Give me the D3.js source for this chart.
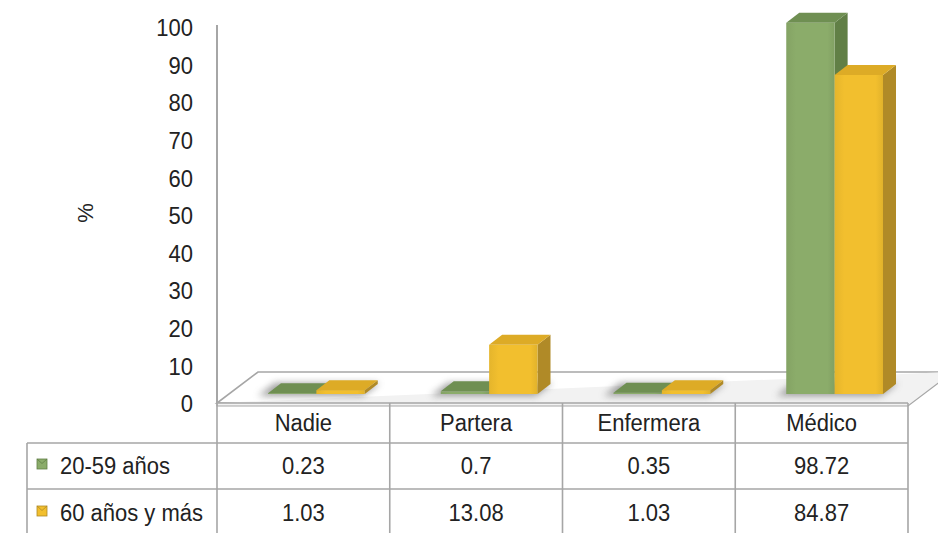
<!DOCTYPE html>
<html>
<head>
<meta charset="utf-8">
<script src="https://cdn.jsdelivr.net/npm/d3@7"></script>
<style>
  body { margin: 0; background: #fff; }
  text { font-family: "Liberation Sans", Arial, sans-serif; fill: #222; }
</style>
</head>
<body>
<svg id="chart" width="938" height="533"></svg>
<script>
const categories = ["Nadie", "Partera", "Enfermera", "Médico"];
const series = ["20-59 años", "60 años y más"];
const values2059 = [0.23, 0.7, 0.35, 98.72];
const values60 = [1.03, 13.08, 1.03, 84.87];
const yTicks = [0, 10, 20, 30, 40, 50, 60, 70, 80, 90, 100];
const yLabel = "%";

const seriesValues = [values2059, values60];
const colors = [
  { front: "#8BAC6A", side: "#617F46", top: "#6F8F52" },
  { front: "#F2BF2E", side: "#B08A27", top: "#DDAB26" }
];

const svg = d3.select("#chart");
const defs = svg.append("defs");
defs.append("filter").attr("id", "blur").attr("x", "-30%").attr("y", "-100%").attr("width", "160%").attr("height", "300%")
  .append("feGaussianBlur").attr("stdDeviation", 3.5);
colors.forEach((c, i) => {
  const g = defs.append("linearGradient").attr("id", "front" + i).attr("x1", 0).attr("x2", 1).attr("y1", 0).attr("y2", 0);
  g.append("stop").attr("offset", "0%").attr("stop-color", d3.color(c.front).darker(0.15));
  g.append("stop").attr("offset", "20%").attr("stop-color", c.front);
  g.append("stop").attr("offset", "85%").attr("stop-color", c.front);
  g.append("stop").attr("offset", "100%").attr("stop-color", d3.color(c.front).darker(0.2));
});

const left = 217, right = 908;
const y = d3.scaleLinear().domain([0, 100]).range([404, 28]);
const x = d3.scaleBand().domain(categories).range([left, right]);
const xInner = d3.scaleBand().domain(series).range([38, x.bandwidth() - 38]);

const floorY = 403;
const depthX = 41, depthY = -31;   // floor depth
const offX = 13, offY = -10;       // bar plane offset
const bdx = 13, bdy = -10;         // bar depth
const grid = "#a6a6a6";

// Floor
svg.append("path")
  .attr("d", `M${left},${floorY} L${right},${floorY} L${right + depthX},${floorY + depthY} L${left + depthX},${floorY + depthY} Z`)
  .attr("fill", "#fff").attr("stroke", grid).attr("stroke-width", 1.6);
svg.append("path")
  .attr("d", `M${left},${floorY} L${left},${floorY + 3} L${right},${floorY + 3} L${right + depthX},${floorY + depthY + 3} L${right + depthX},${floorY + depthY} `)
  .attr("fill", "#f2f2f2").attr("stroke", grid).attr("stroke-width", 1.2);

// Shadows
categories.forEach((c, i) => {
  const x0 = x(c) + offX + xInner(series[0]);
  const x1 = x(c) + offX + xInner(series[1]) + xInner.bandwidth();
  const yb = y(0) + offY;
  svg.append("path")
    .attr("d", `M${x0 - 10},${yb + 2} L${x1 - 2},${yb + 2} L${x1 + bdx + 2},${yb + bdy - 1} L${x0 + bdx - 6},${yb + bdy - 1} Z`)
    .attr("fill", "#777").attr("opacity", 0.7).attr("filter", "url(#blur)");
});

// Bars
const bars = svg.append("g");
categories.forEach((c, i) => {
  series.forEach((s, j) => {
    const v = seriesValues[j][i];
    const col = colors[j];
    const x0 = x(c) + offX + xInner(s);
    const w = xInner.bandwidth();
    const yT = y(v) + offY;
    const yB = y(0) + offY;
    const g = bars.append("g");
    g.append("path")
      .attr("d", `M${x0 + w},${yT} L${x0 + w + bdx},${yT + bdy} L${x0 + w + bdx},${yB + bdy} L${x0 + w},${yB} Z`)
      .attr("fill", col.side);
    g.append("rect").attr("x", x0).attr("y", yT).attr("width", w).attr("height", Math.max(0, yB - yT))
      .attr("fill", `url(#front${j})`);
    g.append("path")
      .attr("d", `M${x0},${yT} L${x0 + w},${yT} L${x0 + w + bdx},${yT + bdy} L${x0 + bdx},${yT + bdy} Z`)
      .attr("fill", col.top);
  });
});

// Y axis
const yAxis = d3.axisLeft(y).tickValues(yTicks).tickSize(0).tickPadding(24);
const ga = svg.append("g").attr("transform", `translate(${left},0)`).call(yAxis);
ga.select(".domain").remove();
ga.selectAll("text").style("font-size", "22px").style("fill", "#222")
  .style("font-family", '"Liberation Sans", Arial, sans-serif')
  .attr("transform", "scale(1,1.1)");
svg.append("line").attr("x1", left).attr("x2", left).attr("y1", 25).attr("y2", floorY)
  .attr("stroke", grid).attr("stroke-width", 2);

svg.append("text").attr("transform", "translate(93,213) rotate(-90)")
  .attr("text-anchor", "middle").style("font-size", "22px").text(yLabel);

// Data table
const rowTop = [403, 443, 489];
const rowBottom = 540;
const legendLeft = 27;
const t = svg.append("g").attr("stroke", grid).attr("stroke-width", 1.6);
t.append("line").attr("x1", left).attr("x2", right).attr("y1", rowTop[0]).attr("y2", rowTop[0]);
t.append("line").attr("x1", legendLeft).attr("x2", right).attr("y1", rowTop[1]).attr("y2", rowTop[1]);
t.append("line").attr("x1", legendLeft).attr("x2", right).attr("y1", rowTop[2]).attr("y2", rowTop[2]);
t.append("line").attr("x1", legendLeft).attr("x2", legendLeft).attr("y1", rowTop[1]).attr("y2", rowBottom);
[left, ...categories.map(c => x(c) + x.bandwidth())].forEach(xx => {
  t.append("line").attr("x1", xx).attr("x2", xx).attr("y1", rowTop[0]).attr("y2", rowBottom);
});

const fs = "22px";
categories.forEach(c => {
  svg.append("text").attr("transform", `translate(${x(c) + x.bandwidth() / 2},${(rowTop[0] + rowTop[1]) / 2 + 8}) scale(1,1.1)`)
    .attr("text-anchor", "middle").style("font-size", fs).text(c);
});
const rowCenters = [(rowTop[1] + rowTop[2]) / 2, (rowTop[2] + 537) / 2];
series.forEach((s, j) => {
  const cy = rowCenters[j];
  const key = svg.append("g").attr("transform", `translate(37,${cy - 7})`);
  key.append("rect").attr("width", 10).attr("height", 10).attr("fill", colors[j].front)
    .attr("stroke", colors[j].side).attr("stroke-width", 0.8);
  key.append("path").attr("d", "M0,0 L5,4.5 L10,0").attr("fill", "none").attr("stroke", colors[j].side).attr("stroke-width", 0.8);
  svg.append("text").attr("transform", `translate(60,${cy + 8}) scale(1,1.1)`)
    .style("font-size", fs).text(s);
  categories.forEach((c, i) => {
    svg.append("text").attr("transform", `translate(${x(c) + x.bandwidth() / 2},${cy + 8}) scale(1,1.1)`)
      .attr("text-anchor", "middle").style("font-size", fs).text(String(seriesValues[j][i]));
  });
});
</script>
</body>
</html>
